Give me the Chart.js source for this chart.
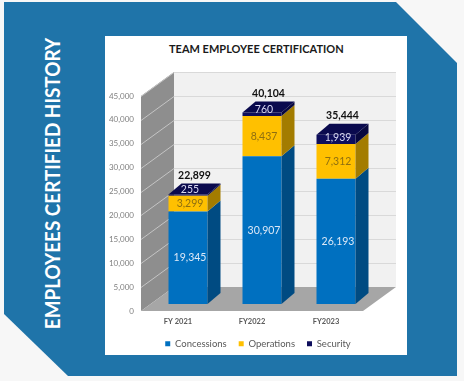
<!DOCTYPE html>
<html>
<head>
<meta charset="utf-8">
<script src="https://cdn.jsdelivr.net/npm/chart.js@4.4.0/dist/chart.umd.min.js"></script>
<style>
  html, body { margin: 0; padding: 0; }
  body { width: 464px; height: 381px; position: relative; overflow: hidden; background: #f7f7f7; font-family: 'Lato', sans-serif; }
  #band { position: absolute; left: 0; top: 0; width: 464px; height: 381px; background: #1f74a9;
          clip-path: polygon(4px 2px, 396px 2px, 457px 63px, 457px 376px, 68px 376px, 4px 314px); }
  #panel { position: absolute; left: 105px; top: 36px; width: 302px; height: 319px; background: #fff; }
  .fit { position: absolute; white-space: nowrap; line-height: 1; transform-origin: 50% 50%; }
  #side-title { color: #fff; font-weight: 700; font-size: 21px; }
  #title { color: #1a1a1a; font-weight: 700; font-size: 11.5px; }
  #chart { position: absolute; left: 0; top: 0; }
</style>
</head>
<body>
<div id="band"></div>
<div id="panel"></div>
<div id="side-title" class="fit">EMPLOYEES CERTIFIED HISTORY</div>
<div id="title" class="fit">TEAM EMPLOYEE CERTIFICATION</div>
<canvas id="chart" width="464" height="381"></canvas>
<script>
// data
const categories = ['FY 2021', 'FY2022', 'FY2023'];
const seriesNames = ['Concessions', 'Operations', 'Security'];
const concessions = [19345, 30907, 26193];
const operations = [3299, 8437, 7312];
const security = [255, 760, 1939];
const yMin = 0, yMax = 45000, yStep = 5000;

// look
const frontColors = ['#0070c0', '#ffc000', '#0e0e5c'];
const sideColors = ['#004b82', '#a37c00', '#08083f'];
const topColors = ['#0a62a8', '#e0a800', '#0a0a4e'];
const labelColors = ['#dce8f6', '#8f6f10', '#d8d8f2'];
const WALL = { dx: 33, dy: -24 };   // depth of the back wall
const SHIFT = { dx: 10, dy: -7 };   // bars sit a bit behind the front plane
const BAR = { dx: 13, dy: -11 };    // depth of each bar
const LEGEND_NUDGE = 6;             // legend sits a little right of the plot centre

const fitText = (el, cx, cy, len, angle) => {
    const w = el.offsetWidth, h = el.offsetHeight;
    el.style.left = (cx - w / 2) + 'px';
    el.style.top = (cy - h / 2) + 'px';
    el.style.transform = `rotate(${angle}deg) scaleX(${len / w})`;
};
fitText(document.getElementById('side-title'), 51, 183, 291, -90);
fitText(document.getElementById('title'), 256, 49, 175, 0);

const poly = (ctx, pts, color) => {
    ctx.beginPath();
    pts.forEach(([x, y], i) => i ? ctx.lineTo(x, y) : ctx.moveTo(x, y));
    ctx.closePath();
    ctx.fillStyle = color;
    ctx.fill();
};
const line = (ctx, x1, y1, x2, y2, color) => {
    ctx.beginPath();
    ctx.moveTo(x1, y1);
    ctx.lineTo(x2, y2);
    ctx.strokeStyle = color;
    ctx.lineWidth = 1;
    ctx.stroke();
};

const depth3d = {
    id: 'depth3d',
    afterLayout(chart) {
        chart.legend.left += LEGEND_NUDGE;
        chart.legend.right += LEGEND_NUDGE;
    },
    beforeDatasetsDraw(chart) {
        const { ctx, chartArea: a, scales: { y } } = chart;
        ctx.save();
        // back wall, side wall, floor
        poly(ctx, [[a.left + WALL.dx, a.top + WALL.dy], [a.right + WALL.dx, a.top + WALL.dy],
                   [a.right + WALL.dx, a.bottom + WALL.dy], [a.left + WALL.dx, a.bottom + WALL.dy]], '#f1f1f1');
        poly(ctx, [[a.left, a.top], [a.left + WALL.dx, a.top + WALL.dy],
                   [a.left + WALL.dx, a.bottom + WALL.dy], [a.left, a.bottom]], '#8e8e8e');
        y.ticks.forEach(t => {
            if (t.value === yMin) return;
            const py = Math.round(y.getPixelForValue(t.value)) + 0.5;
            line(ctx, a.left, py, a.left + WALL.dx, py + WALL.dy, '#c4c4c4');
            line(ctx, a.left + WALL.dx, py + WALL.dy, a.right + WALL.dx, py + WALL.dy, '#d9d9d9');
        });
        poly(ctx, [[a.left, a.bottom], [a.left + WALL.dx, a.bottom + WALL.dy],
                   [a.right + WALL.dx, a.bottom + WALL.dy], [a.right, a.bottom]], '#a6a6a6');
        ctx.restore();
        ctx.save();
        ctx.translate(SHIFT.dx, SHIFT.dy);
    },
    afterDatasetsDraw(chart) {
        const { ctx } = chart;
        const metas = chart.getSortedVisibleDatasetMetas();
        const tops = [];
        metas.forEach((meta, di) => {
            meta.data.forEach((bar, i) => {
                const { x, y, base, width } = bar.getProps(['x', 'y', 'base', 'width'], true);
                const r = x + width / 2, l = x - width / 2;
                poly(ctx, [[r, y], [r + BAR.dx, y + BAR.dy], [r + BAR.dx, base + BAR.dy], [r, base]], sideColors[meta.index]);
                if (di === metas.length - 1) {
                    poly(ctx, [[l, y], [l + BAR.dx, y + BAR.dy], [r + BAR.dx, y + BAR.dy], [r, y]], topColors[meta.index]);
                    tops[i] = { x, y };
                }
            });
        });
        // segment labels
        ctx.textAlign = 'center';
        ctx.textBaseline = 'middle';
        ctx.font = '400 10.5px Lato';
        metas.forEach(meta => {
            const values = chart.data.datasets[meta.index].data;
            meta.data.forEach((bar, i) => {
                const { x, y, base } = bar.getProps(['x', 'y', 'base'], true);
                const ly = Math.min((y + base) / 2, base - 6);
                ctx.fillStyle = labelColors[meta.index];
                ctx.fillText(values[i].toLocaleString('en-US'), x + 2, ly);
            });
        });
        // totals above each stack
        ctx.font = '700 10.5px Lato';
        ctx.fillStyle = '#111';
        tops.forEach((t, i) => {
            const total = concessions[i] + operations[i] + security[i];
            ctx.fillText(total.toLocaleString('en-US'), t.x + BAR.dx / 2, t.y + BAR.dy - 8);
        });
        ctx.restore();
    }
};

new Chart(document.getElementById('chart'), {
    type: 'bar',
    data: {
        labels: categories,
        datasets: [concessions, operations, security].map((data, i) => ({
            label: seriesNames[i],
            data,
            backgroundColor: frontColors[i],
            borderWidth: 0,
            clip: false,
            barPercentage: 0.527,
            categoryPercentage: 1
        }))
    },
    options: {
        responsive: false,
        animation: false,
        locale: 'en-US',
        layout: { padding: { left: 101, right: 101, top: 96, bottom: 22.5 } },
        scales: {
            x: {
                stacked: true,
                grid: { display: false, drawTicks: false },
                border: { display: false },
                ticks: { color: '#595959', padding: 6, font: { family: 'Lato', size: 7.5, weight: '700' } },
                afterFit: s => { s.height = 16; }
            },
            y: {
                stacked: true,
                min: yMin, max: yMax,
                grid: { display: false, drawTicks: false },
                border: { display: false },
                ticks: { stepSize: yStep, color: '#7f7f7f', padding: 7, font: { family: 'Lato', size: 8 } },
                afterFit: s => { s.width = 40; }
            }
        },
        plugins: {
            legend: {
                position: 'bottom',
                fullSize: false,
                labels: { boxWidth: 5, boxHeight: 5, padding: 12, color: '#595959', font: { family: 'Lato', size: 9.5 } }
            },
            title: { display: false },
            tooltip: { enabled: false }
        }
    },
    plugins: [depth3d]
});
</script>
</body>
</html>
